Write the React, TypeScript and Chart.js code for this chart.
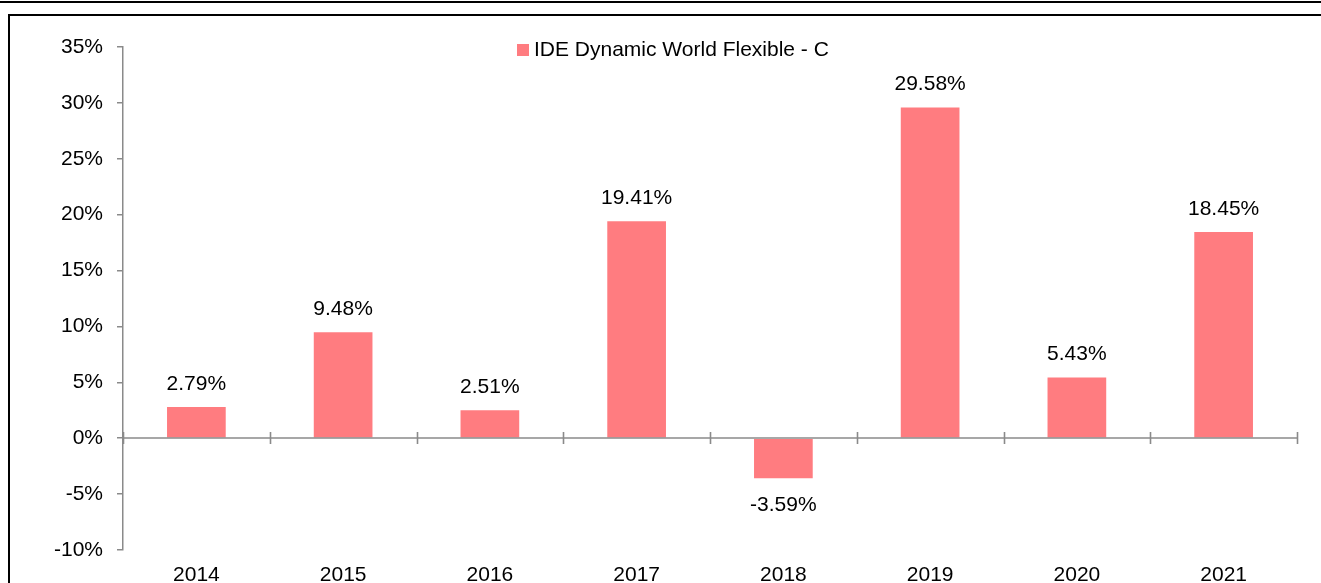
import React, { useEffect, useRef } from "react";
import { Chart, registerables } from "chart.js";

Chart.register(...registerables);

const categories: string[] = ["2014", "2015", "2016", "2017", "2018", "2019", "2020", "2021"];
const seriesLabel = "IDE Dynamic World Flexible - C";
const seriesValues: number[] = [2.79, 9.48, 2.51, 19.41, -3.59, 29.58, 5.43, 18.45];
const yMin = -10;
const yMax = 35;
const yStep = 5;

const BAR_COLOR = "#FF7C80";
const AXIS_COLOR = "#8a8a8a";
const FONT_FAMILY = "'Liberation Sans', Arial, sans-serif";
const FONT_SIZE = 21;

const zeroAxisPlugin = {
  id: "zeroAxis",
  afterDatasetsDraw(chart: any) {
    const { ctx, chartArea, scales } = chart;
    const x = scales.x;
    const y0 = Math.round(scales.y.getPixelForValue(0));
    ctx.save();
    ctx.strokeStyle = AXIS_COLOR;
    ctx.lineWidth = 1.6;
    ctx.beginPath();
    ctx.moveTo(chartArea.left, y0);
    ctx.lineTo(chartArea.right, y0);
    const n = categories.length;
    for (let i = 0; i <= n; i++) {
      let px: number;
      if (i === 0) px = chartArea.left;
      else if (i === n) px = chartArea.right;
      else px = (x.getPixelForValue(i - 1) + x.getPixelForValue(i)) / 2;
      px = Math.round(px) + 0.5;
      ctx.moveTo(px, y0 - 6);
      ctx.lineTo(px, y0 + 6);
    }
    ctx.stroke();
    ctx.restore();
  },
};

const valueLabelPlugin = {
  id: "valueLabels",
  afterDatasetsDraw(chart: any) {
    const { ctx } = chart;
    const meta = chart.getDatasetMeta(0);
    const data = chart.data.datasets[0].data as number[];
    ctx.save();
    ctx.font = `${FONT_SIZE}px ${FONT_FAMILY}`;
    ctx.fillStyle = "#000000";
    ctx.textAlign = "center";
    ctx.textBaseline = "middle";
    meta.data.forEach((el: any, i: number) => {
      const v = data[i];
      const text = v.toFixed(2) + "%";
      const ty = v >= 0 ? el.y - 23 : el.y + 27;
      ctx.fillText(text, el.x, ty);
    });
    ctx.restore();
  },
};

const customLegendPlugin = {
  id: "customLegend",
  afterDraw(chart: any) {
    const { ctx } = chart;
    const ds = chart.data.datasets[0];
    ctx.save();
    ctx.fillStyle = ds.backgroundColor;
    ctx.fillRect(517, 44, 12, 12);
    ctx.font = `${FONT_SIZE}px ${FONT_FAMILY}`;
    ctx.fillStyle = "#000000";
    ctx.textAlign = "left";
    ctx.textBaseline = "middle";
    ctx.fillText(ds.label, 534, 50);
    ctx.restore();
  },
};

export default function App() {
  const canvasRef = useRef<HTMLCanvasElement | null>(null);

  useEffect(() => {
    if (!canvasRef.current) return;
    const chart = new Chart(canvasRef.current, {
      type: "bar",
      data: {
        labels: categories,
        datasets: [
          {
            label: seriesLabel,
            data: seriesValues,
            backgroundColor: BAR_COLOR,
            borderWidth: 0,
            categoryPercentage: 1,
            barPercentage: 0.4,
          },
        ],
      },
      options: {
        responsive: false,
        animation: false,
        layout: { padding: { left: 0, right: 24, top: 47, bottom: 0 } },
        plugins: {
          legend: { display: false },
          tooltip: { enabled: false },
        },
        scales: {
          x: {
            grid: { display: false, drawTicks: false },
            border: { display: false },
            ticks: {
              color: "#000000",
              font: { family: FONT_FAMILY, size: FONT_SIZE },
              padding: 13,
              maxRotation: 0,
              autoSkip: false,
            },
            afterFit(scale: any) {
              scale.height = 33;
            },
          },
          y: {
            min: yMin,
            max: yMax,
            grid: {
              drawOnChartArea: false,
              drawTicks: true,
              tickLength: 6,
              color: AXIS_COLOR,
              lineWidth: 1.5,
            },
            border: { display: true, color: AXIS_COLOR, width: 1.5 },
            ticks: {
              stepSize: yStep,
              color: "#000000",
              font: { family: FONT_FAMILY, size: FONT_SIZE },
              padding: 14,
              callback: (v: any) => `${v}%`,
            },
            afterFit(scale: any) {
              scale.width = 123;
            },
          },
        },
      },
      plugins: [zeroAxisPlugin, valueLabelPlugin, customLegendPlugin],
    });
    return () => chart.destroy();
  }, []);

  return (
    <div style={{ position: "absolute", left: 0, top: 0, width: 1321, height: 583, overflow: "hidden", background: "#fff" }}>
      <div style={{ position: "absolute", left: 0, top: 1, width: 1321, height: 2, background: "#000" }} />
      <div
        style={{
          position: "absolute",
          left: 8,
          top: 14,
          width: 1400,
          height: 700,
          borderLeft: "2px solid #000",
          borderTop: "2px solid #000",
        }}
      />
      <canvas
        ref={canvasRef}
        width={1321}
        height={583}
        style={{ position: "absolute", left: 0, top: 0, width: 1321, height: 583 }}
      />
    </div>
  );
}
